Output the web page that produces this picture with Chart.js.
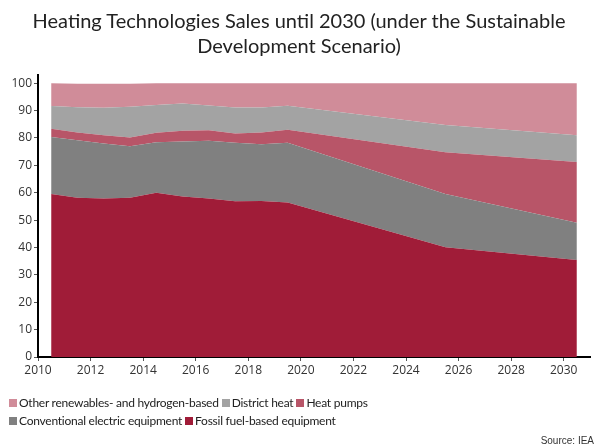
<!DOCTYPE html>
<html>
<head>
<meta charset="utf-8">
<script src="https://cdn.jsdelivr.net/npm/chart.js@4"></script>
<style>
  html, body { margin: 0; padding: 0; background: #fff; }
  #wrap { position: relative; width: 598px; height: 446px; overflow: hidden; }
  #title { position: absolute; left: 0; top: 8px; width: 598px; text-align: center;
    font-family: Lato, sans-serif; font-size: 20px; line-height: 25px; color: #222; }
  #legend { position: absolute; left: 9px; top: 394px; font-family: Lato, sans-serif;
    font-size: 12px; letter-spacing: -0.25px; color: #222; line-height: 18px; }
  #legend .item { display: inline-block; margin-right: 3px; white-space: nowrap; }
  #legend .box { display: inline-block; width: 8px; height: 8px; margin-right: 2px; }
  #source { position: absolute; right: 4px; top: 435px; font-family: "Liberation Sans", Arial, sans-serif;
    font-size: 10px; color: #333; }
</style>
</head>
<body>
<div id="wrap">
  <canvas id="c" width="598" height="446"></canvas>
  <div id="title">Heating Technologies Sales until 2030 (under the Sustainable<br>Development Scenario)</div>
  <div id="legend"></div>
  <div id="source">Source: IEA</div>
</div>
<script>
/* ── Data (share of sales, %) ── */
const YEARS = [2010.5, 2011.5, 2012.5, 2013.5, 2014.5, 2015.5, 2016.5, 2017.5, 2018.5, 2019.5, 2025.5, 2030.5];
const FOSSIL = [59.5, 58.2, 57.9, 58.2, 60.0, 58.6, 57.9, 56.9, 57.0, 56.4, 40.1, 35.4];
const CONV_ELEC = [20.9, 21.0, 20.1, 18.8, 18.4, 20.1, 21.1, 21.4, 20.7, 21.9, 19.4, 13.6];
const HEAT_PUMPS = [3.0, 2.8, 3.0, 3.2, 3.5, 3.9, 3.8, 3.3, 4.3, 4.7, 15.3, 22.2];
const DISTRICT = [8.3, 9.2, 10.0, 11.2, 10.1, 10.0, 9.1, 9.5, 9.1, 8.8, 9.9, 9.8];
const OTHER = [8.3, 8.6, 8.8, 8.4, 8.0, 7.4, 8.1, 8.9, 8.9, 8.2, 15.3, 19.0];

const X_TICKS = [2010, 2012, 2014, 2016, 2018, 2020, 2022, 2024, 2026, 2028, 2030];
const Y_TICKS = [0, 10, 20, 30, 40, 50, 60, 70, 80, 90, 100];

const SERIES = [
  { label: 'Fossil fuel-based equipment', data: FOSSIL, color: '#a01c38' },
  { label: 'Conventional electric equipment', data: CONV_ELEC, color: '#808080' },
  { label: 'Heat pumps', data: HEAT_PUMPS, color: '#b85568' },
  { label: 'District heat', data: DISTRICT, color: '#a3a3a3' },
  { label: 'Other renewables- and hydrogen-based', data: OTHER, color: '#d08c99' }
];
const LEGEND_ROWS = [
  ['Other renewables- and hydrogen-based', 'District heat', 'Heat pumps'],
  ['Conventional electric equipment', 'Fossil fuel-based equipment']
];

const TICK_FONT = { family: '"Open Sans", sans-serif', size: 12 };

const datasets = SERIES.map((s, i) => ({
  label: s.label,
  data: YEARS.map((x, j) => ({ x, y: s.data[j] })),
  backgroundColor: s.color,
  borderColor: s.color,
  borderWidth: 0,
  pointRadius: 0,
  tension: 0,
  fill: i === 0 ? 'origin' : '-1'
}));

new Chart(document.getElementById('c'), {
  type: 'line',
  data: { datasets },
  options: {
    responsive: false,
    animation: false,
    layout: { padding: { top: 75, right: 8, bottom: 0, left: 0 } },
    plugins: { legend: { display: false }, title: { display: false }, tooltip: { enabled: false } },
    scales: {
      x: {
        type: 'linear', min: 2010, max: 2031,
        ticks: { color: '#333', font: TICK_FONT, padding: 2, maxRotation: 0, autoSkip: false, callback: v => String(v) },
        afterBuildTicks: a => { a.ticks = X_TICKS.map(v => ({ value: v })); },
        afterFit: a => { a.height = 89; },
        grid: { drawOnChartArea: false, drawTicks: true, tickLength: 4, color: '#555' },
        border: { color: '#000', width: 2 }
      },
      y: {
        stacked: true, min: 0, max: 103,
        ticks: { color: '#333', font: TICK_FONT, padding: 2, autoSkip: false },
        afterBuildTicks: a => { a.ticks = Y_TICKS.map(v => ({ value: v })); },
        afterFit: a => { a.width = 38; },
        grid: { drawOnChartArea: false, drawTicks: true, tickLength: 4, color: '#555' },
        border: { color: '#000', width: 2 }
      }
    }
  }
});

/* HTML legend, two fixed rows like the original */
const legendEl = document.getElementById('legend');
LEGEND_ROWS.forEach(row => {
  const line = document.createElement('div');
  row.forEach(name => {
    const s = SERIES.find(d => d.label === name);
    const it = document.createElement('span');
    it.className = 'item';
    it.innerHTML = '<span class="box" style="background:' + s.color + '"></span>' + name;
    line.appendChild(it);
  });
  legendEl.appendChild(line);
});
</script>
</body>
</html>
